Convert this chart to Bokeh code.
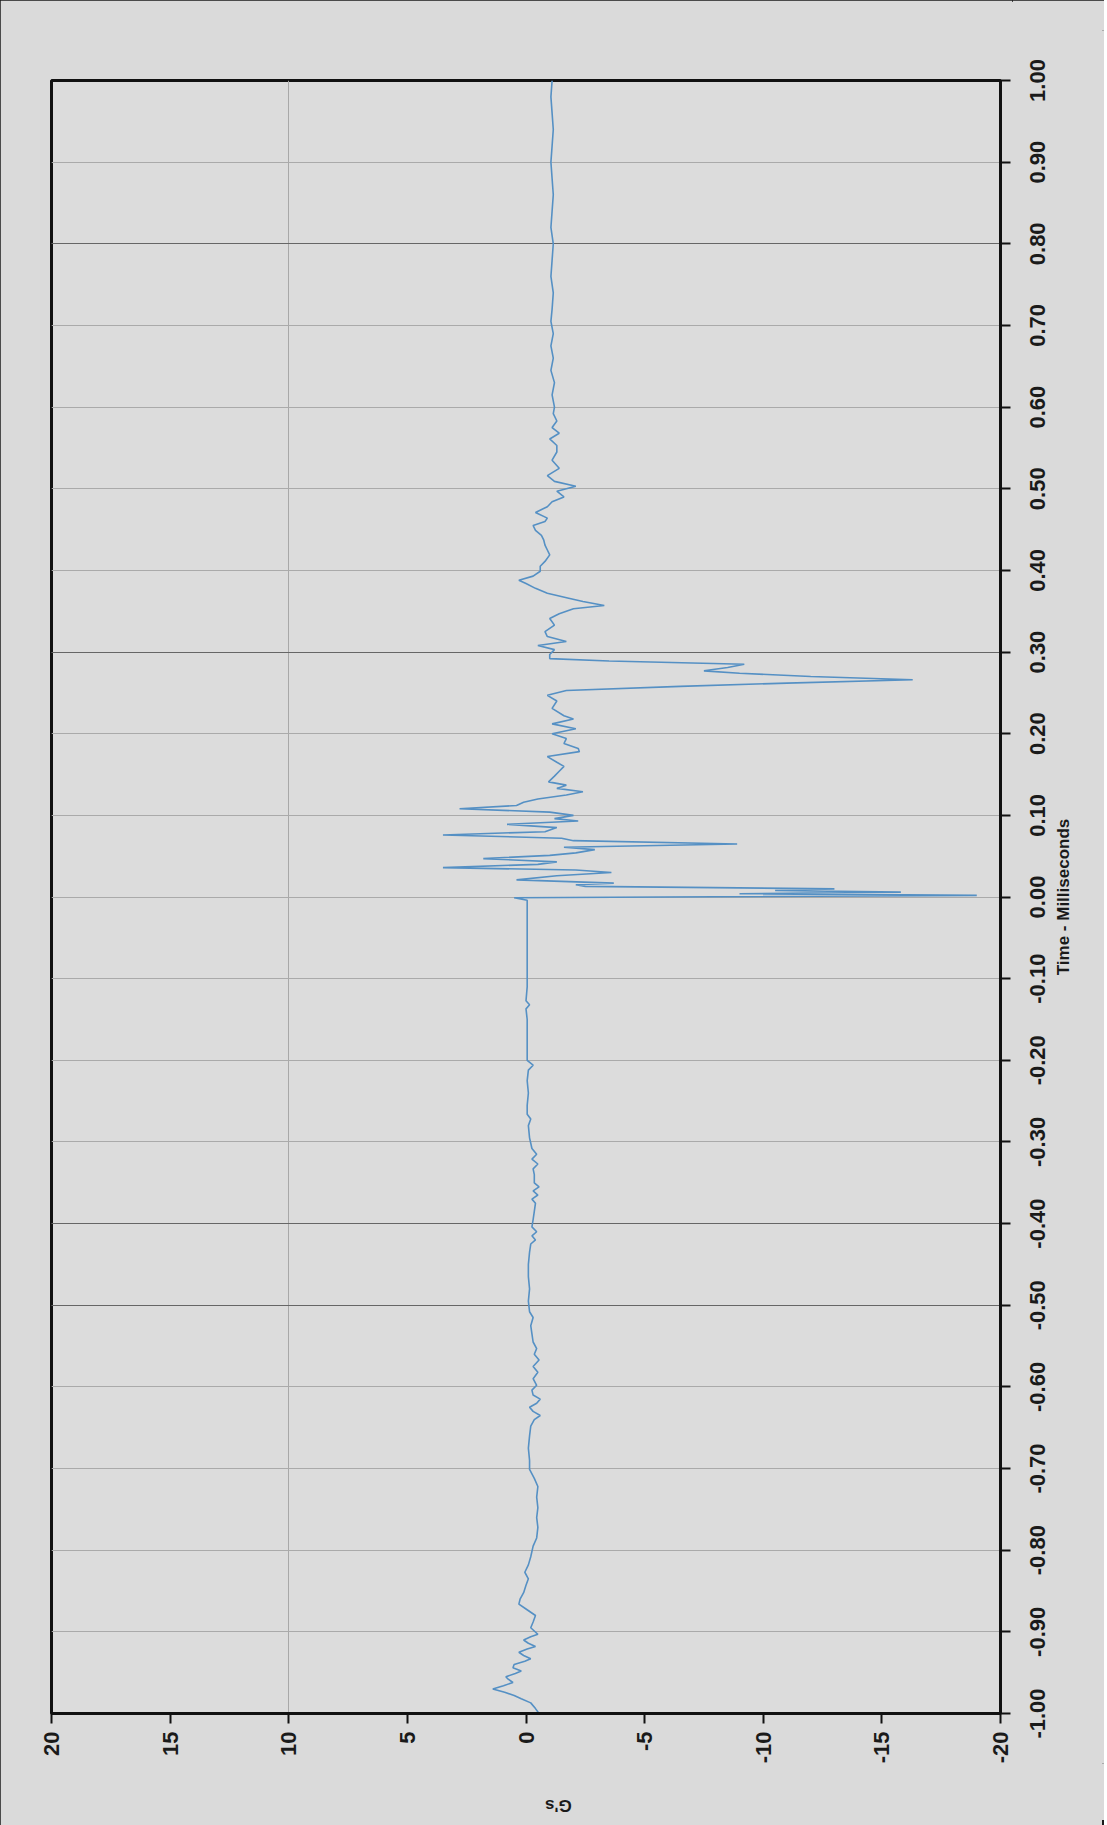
import math
from bokeh.plotting import figure
from bokeh.layouts import row
from bokeh.core.properties import value
from bokeh.models import (Range1d, FixedTicker, PrintfTickFormatter, Grid,
                          ColumnDataSource, LinearAxis)
from bokeh.embed import file_html
from bokeh.resources import INLINE

# ---------------- data ----------------
TIME_TICKS = [-1.0, -0.9, -0.8, -0.7, -0.6, -0.5, -0.4, -0.3, -0.2, -0.1, 0.0,
              0.1, 0.2, 0.3, 0.4, 0.5, 0.6, 0.7, 0.8, 0.9, 1.0]
TIME_LABELS = ["-1.00", "-0.90", "-0.80", "-0.70", "-0.60", "-0.50", "-0.40", "-0.30",
               "-0.20", "-0.10", "0.00", "0.10", "0.20", "0.30", "0.40", "0.50",
               "0.60", "0.70", "0.80", "0.90", "1.00"]
G_TICKS = [20, 15, 10, 5, 0, -5, -10, -15, -20]
X_TITLE = "G's"
Y_TITLE = "Time - Milliseconds"

# pre-trigger, -1.0 .. -0.6 ms
T_PRE1 = [-1.000, -0.994, -0.987, -0.982, -0.978, -0.974, -0.970, -0.966, -0.962, -0.958,
          -0.955, -0.951, -0.948, -0.944, -0.940, -0.936, -0.933, -0.929, -0.925, -0.921,
          -0.918, -0.914, -0.910, -0.906, -0.903, -0.899, -0.895, -0.888, -0.880, -0.872,
          -0.866, -0.860, -0.852, -0.843, -0.835, -0.827, -0.818, -0.808, -0.795, -0.785,
          -0.772, -0.760, -0.748, -0.735, -0.722, -0.712, -0.701, -0.690, -0.675, -0.660,
          -0.648, -0.640, -0.635, -0.630, -0.625, -0.620, -0.615, -0.610, -0.604]
G_PRE1 = [-0.55, -0.40, -0.20, 0.20, 0.50, 0.90, 1.40, 0.95, 0.55, 0.75,
          0.85, 0.45, 0.20, 0.55, 0.50, 0.05, -0.20, 0.10, 0.30, -0.05,
          -0.40, -0.10, 0.10, -0.20, -0.50, -0.35, -0.20, -0.30, -0.40, 0.00,
          0.30, 0.25, 0.10, 0.00, -0.10, 0.05, -0.10, -0.20, -0.30, -0.45,
          -0.50, -0.45, -0.50, -0.45, -0.50, -0.35, -0.15, -0.15, -0.10, -0.15,
          -0.20, -0.35, -0.60, -0.30, -0.15, -0.45, -0.60, -0.30, -0.25]

# pre-trigger, -0.6 .. 0 ms
T_PRE2 = [-0.598, -0.590, -0.582, -0.575, -0.567, -0.560, -0.553, -0.545, -0.535, -0.525,
          -0.515, -0.508, -0.495, -0.480, -0.465, -0.450, -0.435, -0.425, -0.420, -0.415,
          -0.410, -0.404, -0.395, -0.385, -0.375, -0.370, -0.365, -0.360, -0.355, -0.350,
          -0.340, -0.333, -0.327, -0.321, -0.315, -0.308, -0.295, -0.280, -0.272, -0.266,
          -0.255, -0.240, -0.225, -0.212, -0.206, -0.200, -0.185, -0.170, -0.150, -0.137,
          -0.132, -0.127, -0.110, -0.090, -0.060, -0.030, -0.004]
G_PRE2 = [-0.45, -0.30, -0.50, -0.30, -0.55, -0.35, -0.45, -0.30, -0.25, -0.20,
          -0.30, -0.15, -0.10, -0.15, -0.10, -0.10, -0.15, -0.20, -0.40, -0.25,
          -0.45, -0.25, -0.30, -0.35, -0.40, -0.25, -0.50, -0.30, -0.55, -0.35,
          -0.35, -0.30, -0.50, -0.25, -0.45, -0.25, -0.15, -0.10, -0.20, -0.05,
          -0.05, -0.10, -0.05, -0.10, -0.30, -0.05, -0.05, -0.05, -0.05, 0.00,
          -0.15, 0.00, -0.05, -0.05, -0.05, -0.05, -0.05]

# impact event, 0 .. 0.3 ms
T_EVENT = [-0.001, 0.002, 0.004, 0.006, 0.008, 0.010, 0.013, 0.015, 0.017, 0.021,
           0.026, 0.030, 0.033, 0.036, 0.040, 0.043, 0.047, 0.051, 0.054, 0.058,
           0.061, 0.065, 0.069, 0.072, 0.076, 0.080, 0.085, 0.089, 0.093, 0.096,
           0.100, 0.104, 0.108, 0.112, 0.116, 0.120, 0.125, 0.129, 0.133, 0.137,
           0.141, 0.148, 0.154, 0.160, 0.165, 0.172, 0.178, 0.182, 0.188, 0.194,
           0.200, 0.206, 0.212, 0.218, 0.222, 0.231, 0.240, 0.247, 0.253, 0.258,
           0.262, 0.266, 0.270, 0.274, 0.277, 0.281, 0.285, 0.289, 0.292, 0.297]
G_EVENT = [0.50, -19.00, -9.00, -15.80, -10.50, -13.00, -2.50, -2.10, -3.70, 0.40,
           -1.30, -3.60, -2.10, 3.50, -0.50, -1.30, 1.80, -1.00, -2.10, -2.90,
           -1.60, -8.90, -2.00, -1.50, 3.50, -0.80, -1.30, 0.80, -2.20, -1.20,
           -2.00, -1.00, 2.80, 0.40, 0.10, -0.50, -1.70, -2.40, -1.30, -1.70,
           -0.95, -1.20, -1.40, -1.60, -1.30, -0.90, -2.25, -2.20, -1.60, -1.70,
           -1.10, -2.10, -1.10, -2.00, -1.60, -1.10, -1.30, -0.90, -1.70, -6.50,
           -11.00, -16.30, -12.00, -9.00, -7.50, -8.50, -9.20, -3.50, -1.00, -1.00]

# ring-down, 0.3 .. 0.6 ms
T_RING = [0.303, 0.308, 0.313, 0.319, 0.325, 0.333, 0.341, 0.347, 0.353, 0.357,
          0.362, 0.366, 0.372, 0.378, 0.384, 0.388, 0.393, 0.399, 0.405, 0.411,
          0.419, 0.425, 0.431, 0.437, 0.443, 0.449, 0.455, 0.460, 0.464, 0.471,
          0.478, 0.484, 0.490, 0.497, 0.503, 0.509, 0.516, 0.525, 0.535, 0.545,
          0.553, 0.561, 0.568, 0.575, 0.583, 0.592, 0.600]
G_RING = [-1.20, -0.50, -1.70, -0.90, -0.80, -1.20, -1.00, -1.40, -2.00, -3.30,
          -2.40, -1.80, -0.90, -0.40, 0.00, 0.30, -0.30, -0.60, -0.60, -0.80,
          -1.00, -0.90, -0.80, -0.75, -0.65, -0.40, -0.30, -0.80, -0.90, -0.40,
          -0.90, -1.10, -1.60, -1.30, -2.10, -1.20, -0.90, -1.40, -1.10, -1.30,
          -1.30, -1.00, -1.40, -1.10, -1.30, -1.15, -1.20]

# post-event, 0.6 .. 1.0 ms
T_POST = [0.615, 0.630, 0.645, 0.660, 0.675, 0.690, 0.705, 0.720, 0.740, 0.760,
          0.780, 0.800, 0.820, 0.840, 0.860, 0.880, 0.900, 0.920, 0.940, 0.960,
          0.980, 1.000]
G_POST = [-1.10, -1.20, -1.05, -1.15, -1.05, -1.15, -1.05, -1.10, -1.15, -1.05,
          -1.10, -1.15, -1.05, -1.10, -1.15, -1.10, -1.05, -1.10, -1.15, -1.10,
          -1.05, -1.10]

TIME_MS = T_PRE1 + T_PRE2 + T_EVENT + T_RING + T_POST
G_VALUES = G_PRE1 + G_PRE2 + G_EVENT + G_RING + G_POST

# ---------------- layout constants ----------------
FONT = "Liberation Sans"
BG = "#dcdcdc"
BORDER_BG = "#dadada"
INK = "#1a1a1a"
FRAME_W, FRAME_H = 949, 1633
LEFT, TOP = 51, 80
MAIN_RIGHT = 12          # room for the tick marks of the time axis
SIDE_W = 92              # strip that carries the (rotated) time labels + title
EXT = 50                 # extra px above/below in the label strip
PX_PER_MS = FRAME_H / 2.0
G_TITLE_AT = -0.8        # where the "G's" title sits along the G axis

# ---------------- main figure ----------------
p = figure(frame_width=FRAME_W, frame_height=FRAME_H,
           min_border_left=LEFT, min_border_top=TOP,
           min_border_right=MAIN_RIGHT, min_border_bottom=100,
           x_range=Range1d(20, -20), y_range=Range1d(-1, 1),
           y_axis_location="right", x_axis_location="below",
           output_backend="svg", toolbar_location=None,
           background_fill_color=BG, border_fill_color=BORDER_BG)
p.frame_align = False

p.outline_line_color = "#111111"
p.outline_line_width = 3
p.outline_line_alpha = 1.0

# grids
p.ygrid.ticker = FixedTicker(ticks=TIME_TICKS)
p.ygrid.grid_line_color = "#aaaaaa"
p.ygrid.grid_line_width = 1
p.xgrid.ticker = FixedTicker(ticks=[10])
p.xgrid.grid_line_color = "#a8a8a8"
p.xgrid.grid_line_width = 1
dark = Grid(dimension=1, ticker=FixedTicker(ticks=[0.8, 0.3, -0.4, -0.5]),
            grid_line_color="#666666", grid_line_width=1.2)
p.add_layout(dark)

# data trace
src = ColumnDataSource(dict(g=G_VALUES, t=TIME_MS))
p.line(x="g", y="t", source=src, line_color="#5590c4", line_width=1.6)

# time axis (right): tick marks here, labels in the side strip
ya = p.yaxis[0]
ya.ticker = FixedTicker(ticks=TIME_TICKS)
ya.formatter = PrintfTickFormatter(format="%.2f")
ya.major_label_text_font_size = "1px"
ya.major_label_text_color = None
ya.major_label_standoff = 0

# G axis (below)
xa = p.xaxis[0]
xa.ticker = FixedTicker(ticks=G_TICKS)
xa.formatter = PrintfTickFormatter(format="%d")
xa.major_label_orientation = math.pi / 2
xa.major_label_standoff = 8
xa.major_label_text_font = FONT
xa.major_label_text_font_size = "22px"
xa.major_label_text_font_style = "bold"
xa.major_label_text_color = INK

for ax in (xa, ya):
    ax.axis_line_color = "#111111"
    ax.axis_line_width = 3
    ax.major_tick_line_color = "#111111"
    ax.major_tick_line_width = 2
    ax.major_tick_out = 10
    ax.major_tick_in = 0
    ax.minor_tick_line_color = None

# "G's" title: a single upside-down label on an extra, line-less axis
gtitle = LinearAxis(ticker=FixedTicker(ticks=[G_TITLE_AT]),
                    major_label_overrides={G_TITLE_AT: X_TITLE},
                    major_label_orientation=math.pi,
                    major_label_standoff=39,
                    major_tick_out=0, major_tick_in=0,
                    major_tick_line_color=None, minor_tick_line_color=None,
                    axis_line_color=None,
                    major_label_text_font=FONT, major_label_text_font_size="17px",
                    major_label_text_font_style="bold", major_label_text_color=INK)
p.add_layout(gtitle, "below")

# ---------------- side strip with the time labels ----------------
span = 1.0 + EXT / PX_PER_MS
side = figure(frame_width=SIDE_W, frame_height=FRAME_H + 2 * EXT,
              min_border_left=0, min_border_right=0,
              min_border_top=TOP - EXT, min_border_bottom=57,
              x_range=Range1d(0, SIDE_W), y_range=Range1d(-span, span),
              x_axis_location=None, y_axis_location=None,
              output_backend="svg", toolbar_location=None,
              background_fill_color=BORDER_BG, border_fill_color=BORDER_BG,
              outline_line_color=None)
side.frame_align = False
for g in side.grid:
    g.visible = False

lbl_src = ColumnDataSource(dict(t=TIME_TICKS, label=TIME_LABELS,
                                x=[25] * len(TIME_TICKS)))
side.text(x="x", y="t", text="label", source=lbl_src, angle=math.pi / 2,
          text_align="center", text_baseline="middle",
          text_font=value(FONT), text_font_size=value("22px"),
          text_font_style="bold", text_color=INK)
side.text(x=[51], y=[0.0], text=[Y_TITLE], angle=math.pi / 2,
          text_align="center", text_baseline="middle",
          text_font=value(FONT), text_font_size=value("17px"),
          text_font_style="bold", text_color=INK)

layout = row(p, side)
layout.styles = {"outline": "2px solid #1a1a1a", "outline-offset": "-2px",
                 "background-color": BORDER_BG}

open("out.html", "w").write(file_html(layout, INLINE))
